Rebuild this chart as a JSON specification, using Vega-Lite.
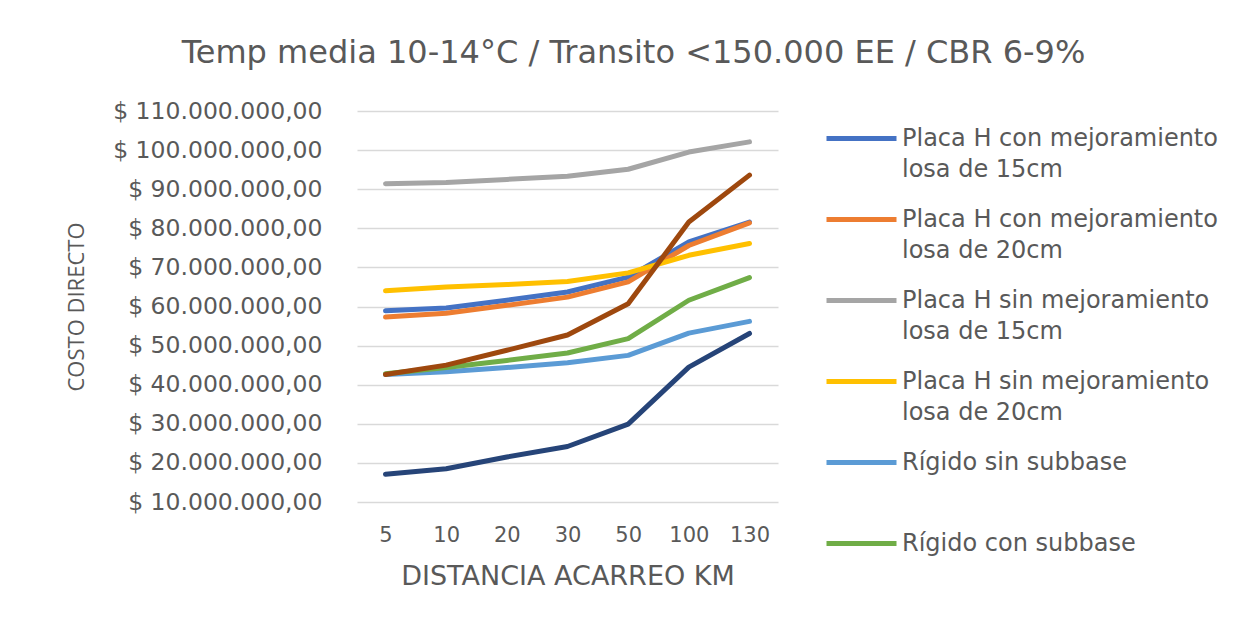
{
  "$schema": "https://vega.github.io/schema/vega-lite/v6.json",
  "autosize": "none",
  "width": 421,
  "height": 391,
  "padding": {"left": 357, "top": 111, "right": 468, "bottom": 120},
  "background": "white",
  "title": {
    "text": "Temp media 10-14°C / Transito <150.000 EE / CBR 6-9%",
    "font": "DejaVu Sans",
    "fontSize": 32,
    "fontWeight": "normal",
    "color": "#595959",
    "anchor": "middle",
    "dx": 66,
    "offset": 29
  },
  "data": {
    "values": [
      {"serie": "Placa H con mejoramiento losa de 15cm", "km": "5", "costo": 58900000},
      {"serie": "Placa H con mejoramiento losa de 15cm", "km": "10", "costo": 59600000},
      {"serie": "Placa H con mejoramiento losa de 15cm", "km": "20", "costo": 61600000},
      {"serie": "Placa H con mejoramiento losa de 15cm", "km": "30", "costo": 63700000},
      {"serie": "Placa H con mejoramiento losa de 15cm", "km": "50", "costo": 67500000},
      {"serie": "Placa H con mejoramiento losa de 15cm", "km": "100", "costo": 76500000},
      {"serie": "Placa H con mejoramiento losa de 15cm", "km": "130", "costo": 81600000},
      {"serie": "Placa H con mejoramiento losa de 20cm", "km": "5", "costo": 57300000},
      {"serie": "Placa H con mejoramiento losa de 20cm", "km": "10", "costo": 58300000},
      {"serie": "Placa H con mejoramiento losa de 20cm", "km": "20", "costo": 60300000},
      {"serie": "Placa H con mejoramiento losa de 20cm", "km": "30", "costo": 62400000},
      {"serie": "Placa H con mejoramiento losa de 20cm", "km": "50", "costo": 66300000},
      {"serie": "Placa H con mejoramiento losa de 20cm", "km": "100", "costo": 75600000},
      {"serie": "Placa H con mejoramiento losa de 20cm", "km": "130", "costo": 81400000},
      {"serie": "Placa H sin mejoramiento losa de 15cm", "km": "5", "costo": 91400000},
      {"serie": "Placa H sin mejoramiento losa de 15cm", "km": "10", "costo": 91700000},
      {"serie": "Placa H sin mejoramiento losa de 15cm", "km": "20", "costo": 92500000},
      {"serie": "Placa H sin mejoramiento losa de 15cm", "km": "30", "costo": 93300000},
      {"serie": "Placa H sin mejoramiento losa de 15cm", "km": "50", "costo": 95100000},
      {"serie": "Placa H sin mejoramiento losa de 15cm", "km": "100", "costo": 99500000},
      {"serie": "Placa H sin mejoramiento losa de 15cm", "km": "130", "costo": 102100000},
      {"serie": "Placa H sin mejoramiento losa de 20cm", "km": "5", "costo": 64000000},
      {"serie": "Placa H sin mejoramiento losa de 20cm", "km": "10", "costo": 65000000},
      {"serie": "Placa H sin mejoramiento losa de 20cm", "km": "20", "costo": 65600000},
      {"serie": "Placa H sin mejoramiento losa de 20cm", "km": "30", "costo": 66400000},
      {"serie": "Placa H sin mejoramiento losa de 20cm", "km": "50", "costo": 68600000},
      {"serie": "Placa H sin mejoramiento losa de 20cm", "km": "100", "costo": 73100000},
      {"serie": "Placa H sin mejoramiento losa de 20cm", "km": "130", "costo": 76100000},
      {"serie": "Rígido sin subbase", "km": "5", "costo": 42600000},
      {"serie": "Rígido sin subbase", "km": "10", "costo": 43300000},
      {"serie": "Rígido sin subbase", "km": "20", "costo": 44400000},
      {"serie": "Rígido sin subbase", "km": "30", "costo": 45600000},
      {"serie": "Rígido sin subbase", "km": "50", "costo": 47500000},
      {"serie": "Rígido sin subbase", "km": "100", "costo": 53200000},
      {"serie": "Rígido sin subbase", "km": "130", "costo": 56200000},
      {"serie": "Rígido con subbase", "km": "5", "costo": 42800000},
      {"serie": "Rígido con subbase", "km": "10", "costo": 44400000},
      {"serie": "Rígido con subbase", "km": "20", "costo": 46200000},
      {"serie": "Rígido con subbase", "km": "30", "costo": 48100000},
      {"serie": "Rígido con subbase", "km": "50", "costo": 51800000},
      {"serie": "Rígido con subbase", "km": "100", "costo": 61600000},
      {"serie": "Rígido con subbase", "km": "130", "costo": 67400000},
      {"serie": "Serie 7", "km": "5", "costo": 17100000},
      {"serie": "Serie 7", "km": "10", "costo": 18500000},
      {"serie": "Serie 7", "km": "20", "costo": 21500000},
      {"serie": "Serie 7", "km": "30", "costo": 24200000},
      {"serie": "Serie 7", "km": "50", "costo": 29900000},
      {"serie": "Serie 7", "km": "100", "costo": 44500000},
      {"serie": "Serie 7", "km": "130", "costo": 53100000},
      {"serie": "Serie 8", "km": "5", "costo": 42600000},
      {"serie": "Serie 8", "km": "10", "costo": 45000000},
      {"serie": "Serie 8", "km": "20", "costo": 48800000},
      {"serie": "Serie 8", "km": "30", "costo": 52700000},
      {"serie": "Serie 8", "km": "50", "costo": 60700000},
      {"serie": "Serie 8", "km": "100", "costo": 81600000},
      {"serie": "Serie 8", "km": "130", "costo": 93600000}
    ]
  },
  "mark": {"type": "line", "strokeWidth": 5, "strokeCap": "round", "strokeJoin": "round"},
  "encoding": {
    "x": {
      "field": "km",
      "type": "ordinal",
      "sort": ["5", "10", "20", "30", "50", "100", "130"],
      "scale": {"type": "point", "padding": 0.47},
      "axis": {
        "title": "DISTANCIA ACARREO KM",
        "labelAngle": 0,
        "labelFont": "DejaVu Sans",
        "labelFontSize": 21,
        "labelColor": "#595959",
        "labelPadding": 22,
        "domain": false,
        "ticks": false,
        "grid": false,
        "titleFont": "DejaVu Sans",
        "titleFontSize": 27,
        "titleFontWeight": "normal",
        "titleColor": "#595959",
        "titlePadding": 18
      }
    },
    "y": {
      "field": "costo",
      "type": "quantitative",
      "scale": {"domain": [10000000, 110000000], "nice": false, "zero": false},
      "axis": {
        "title": "COSTO DIRECTO",
        "values": [10000000, 20000000, 30000000, 40000000, 50000000, 60000000, 70000000, 80000000, 90000000, 100000000, 110000000],
        "labelExpr": "'$ ' + format(datum.value / 1000000, 'd') + '.000.000,00'",
        "labelFont": "DejaVu Sans",
        "labelFontSize": 23.5,
        "labelLimit": 400,
        "labelColor": "#595959",
        "labelPadding": 35,
        "domain": false,
        "ticks": false,
        "grid": true,
        "gridColor": "#D9D9D9",
        "gridWidth": 1.5,
        "titleFont": "Open Sans",
        "titleFontSize": 22,
        "titleFontWeight": "normal",
        "titleColor": "#595959",
        "titlePadding": 69
      }
    },
    "color": {
      "field": "serie",
      "type": "nominal",
      "scale": {
        "domain": ["Placa H con mejoramiento losa de 15cm", "Placa H con mejoramiento losa de 20cm", "Placa H sin mejoramiento losa de 15cm", "Placa H sin mejoramiento losa de 20cm", "Rígido sin subbase", "Rígido con subbase", "Serie 7", "Serie 8"],
        "range": ["#4472C4", "#ED7D31", "#A5A5A5", "#FFC000", "#5B9BD5", "#70AD47", "#264478", "#9E480E"]
      },
      "legend": {
        "title": null,
        "orient": "none",
        "legendX": 467,
        "legendY": -10,
        "values": ["Placa H con mejoramiento losa de 15cm", "Placa H con mejoramiento losa de 20cm", "Placa H sin mejoramiento losa de 15cm", "Placa H sin mejoramiento losa de 20cm", "Rígido sin subbase", "Rígido con subbase"],
        "symbolType": "stroke",
        "symbolSize": 4900,
        "symbolStrokeWidth": 5,
        "labelFont": "DejaVu Sans",
        "labelFontSize": 24,
        "labelColor": "#595959",
        "labelBaseline": "middle",
        "labelOffset": 3,
        "labelLimit": 400,
        "gridAlign": "all",
        "rowPadding": 0,
        "labelExpr": "indexof(datum.label, ' losa') > 0 ? [slice(datum.label, 0, indexof(datum.label, ' losa')), slice(datum.label, indexof(datum.label, ' losa') + 1)] : datum.label",
        "encode": {
          "labels": {
            "update": {
              "lineHeight": {"value": 31.5}
            }
          }
        }
      }
    }
  },
  "config": {"view": {"stroke": null}}
}
